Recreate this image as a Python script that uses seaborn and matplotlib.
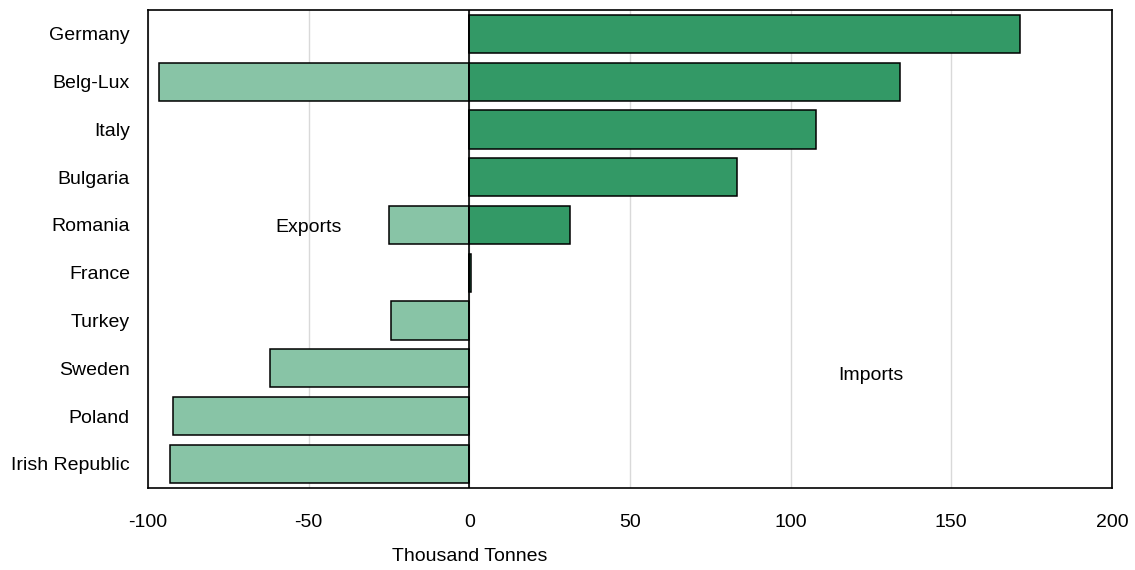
import pandas as pd
import matplotlib.pyplot as plt
import matplotlib.transforms as mtransforms
import seaborn as sns

# Data (thousand tonnes)
countries = ["Germany", "Belg-Lux", "Italy", "Bulgaria", "Romania",
             "France", "Turkey", "Sweden", "Poland", "Irish Republic"]
imports = [171.4, 134.1, 107.8, 83.3, 31.4, 0.6, 0, 0, 0, 0]
exports = [0, -96.6, 0, 0, -25.0, 0, -24.5, -62.1, -92.1, -93.0]
x_ticks = [-100, -50, 0, 50, 100, 150, 200]


def main():
    sns.set_theme(style="white")
    plt.rcParams["font.family"] = ["Liberation Sans", "DejaVu Sans"]

    df = pd.DataFrame({"country": countries, "imports": imports, "exports": exports})

    fig = plt.figure(figsize=(11.35, 5.7), dpi=100)
    ax = fig.add_axes([0.1304, 0.1444, 0.8493, 0.8381])

    sns.barplot(data=df, x="exports", y="country", orient="h", color="#88c4a6",
                saturation=1, edgecolor="black", linewidth=1.1, width=0.8, ax=ax, zorder=3)
    sns.barplot(data=df, x="imports", y="country", orient="h", color="#339966",
                saturation=1, edgecolor="black", linewidth=1.1, width=0.8, ax=ax, zorder=3)

    ax.set_xlim(-100, 200)
    ax.set_xticks(x_ticks)
    ax.set_xticklabels([str(t) for t in x_ticks])
    ax.xaxis.grid(True, color="#d9d9d9", linewidth=1, zorder=0)
    ax.axvline(0, color="black", linewidth=1.2, zorder=4)

    for side in ax.spines.values():
        side.set_color("black")
        side.set_linewidth(1.2)

    ax.tick_params(axis="both", length=0, labelsize=14, colors="black")
    ax.tick_params(axis="x", pad=19)
    ax.tick_params(axis="y", pad=13)
    ax.set_ylabel("")
    ax.set_xlabel("")

    trans = mtransforms.blended_transform_factory(ax.transData, ax.transAxes)
    ax.text(0, -0.145, "Thousand Tonnes", transform=trans, ha="center", va="center",
            fontsize=14, color="black")

    ax.text(-50, 4.05, "Exports", ha="center", va="center", fontsize=14, color="black")
    ax.text(125, 7.15, "Imports", ha="center", va="center", fontsize=14, color="black")

    fig.savefig("out.png", dpi=100)
    plt.close(fig)


if __name__ == "__main__":
    main()
